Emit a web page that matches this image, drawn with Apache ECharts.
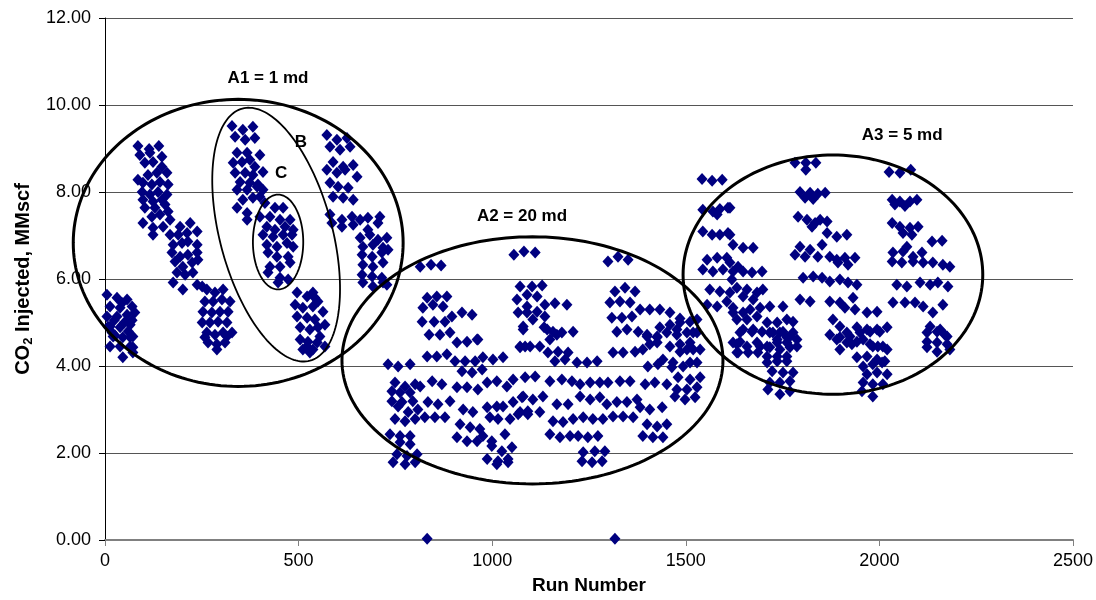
<!DOCTYPE html>
<html>
<head>
<meta charset="utf-8">
<title>CO2 Injected by Run Number</title>
<script src="https://cdn.jsdelivr.net/npm/echarts@6/dist/echarts.min.js"></script>
<style>
  html, body { margin: 0; padding: 0; background: #fff; }
  #chart { width: 1096px; height: 600px; }
</style>
</head>
<body>
<div id="chart"></div>
<script>
// Run number vs. CO2 injected (MMscf), grouped by permeability region.

// Region A1 (1 md): low block, stepped band, B/C sub-regions, second stepped band
const lowBand1 = [
  [5,5.64],[31,5.57],[57,5.53],[13,5.37],[39,5.34],[70,5.37],[5,5.14],[31,5.14],[57,5.18],[77,5.23],
  [13,4.91],[39,4.89],[65,4.95],[21,4.68],[46,4.66],[72,4.68],[13,4.45],[39,4.45],[65,4.45],[18,4.77],
  [26,4.70],[65,4.66],[46,4.20],[72,4.43],[72,4.31],[50,5.00],[24,5.05],[60,4.80],[8,4.90],[70,5.05],[44,5.45]
];
const stepBand2 = [
  [85,9.06],[114,8.99],[139,9.06],[90,8.85],[116,8.90],[147,8.81],[103,8.67],[124,8.69],[147,8.58],[85,8.28],
  [111,8.39],[134,8.44],[160,8.44],[98,8.21],[121,8.17],[142,8.23],[163,8.17],[96,8.00],[116,7.94],[137,8.00],
  [160,7.94],[98,7.82],[124,7.78],[147,7.82],[103,7.64],[129,7.64],[155,7.71],[121,7.43],[142,7.48],[163,7.55],
  [98,7.29],[124,7.18],[124,7.02],[150,7.20],[168,7.36],[194,7.20],[220,7.29],[168,7.02],[189,7.02],[212,7.06],
  [238,7.09],[176,6.79],[199,6.83],[214,6.86],[238,6.79],[173,6.61],[194,6.51],[214,6.56],[238,6.61],[181,6.40],
  [201,6.28],[225,6.38],[240,6.44],[186,6.15],[207,6.10],[227,6.15],[176,5.92],[201,5.76],[238,5.87],[251,5.83],
  [263,5.76],[284,5.69],[305,5.76],[258,5.48],[279,5.48],[302,5.53],[323,5.48],[253,5.25],[276,5.23],[297,5.25],
  [318,5.25],[251,5.00],[271,5.00],[292,5.02],[315,5.00],[263,4.77],[284,4.72],[305,4.77],[328,4.77],[266,4.54],
  [289,4.50],[310,4.54],[315,4.68],[258,4.66],[289,4.38]
];
const bUpper = [
  [328,9.52],[356,9.43],[382,9.50],[336,9.27],[362,9.20],[387,9.24],[341,8.90],[367,8.90],[400,8.85],[331,8.67],
  [354,8.69],[374,8.74],[387,8.58],[408,8.46],[336,8.44],[362,8.44],[382,8.39],[349,8.23],[374,8.21],[395,8.17],
  [341,8.05],[367,8.05],[393,8.12],[408,8.05],[356,7.82],[382,7.87],[400,7.89],[341,7.64],[367,7.52],[367,7.36]
];
const cCore = [
  [413,7.75],[439,7.64],[460,7.64],[400,7.43],[426,7.43],[452,7.36],[478,7.36],[418,7.20],[439,7.13],[465,7.20],
  [486,7.13],[408,7.02],[434,6.97],[460,7.02],[483,7.02],[418,6.79],[444,6.74],[470,6.83],[486,6.74],[421,6.61],
  [444,6.51],[473,6.51],[426,6.28],[452,6.28],[478,6.38],[421,6.15],[452,6.03],[473,5.99],[447,5.92]
];
const afterC = [
  [496,5.69],[522,5.60],[542,5.57],[491,5.41],[511,5.34],[537,5.37],[496,5.14],[522,5.11],[542,5.07],[504,4.89],
  [529,4.84],[550,4.89],[504,4.61],[524,4.56],[548,4.54],[511,4.38],[537,4.38],[537,5.69],[550,5.48],[563,5.25],
  [568,4.95],[555,4.68],[568,4.45],[522,4.45],[529,4.31]
];
const stepBand4 = [
  [573,9.31],[599,9.20],[625,9.24],[581,9.04],[607,8.97],[633,9.04],[589,8.69],[615,8.58],[641,8.62],[573,8.51],
  [599,8.44],[620,8.51],[651,8.35],[581,8.21],[602,8.12],[628,8.10],[589,7.89],[615,7.87],[641,7.82],[581,7.48],
  [612,7.36],[638,7.43],[586,7.29],[612,7.20],[641,7.25],[659,7.36],[679,7.41],[710,7.43],[705,7.29],[659,6.95],
  [684,7.02],[679,7.13],[705,6.90],[728,6.95],[666,6.74],[692,6.79],[718,6.72],[664,6.56],[690,6.51],[715,6.61],
  [731,6.67],[666,6.33],[692,6.28],[718,6.38],[664,6.10],[690,6.06],[715,6.03],[666,5.92],[692,5.83],[718,5.92],[728,5.87]
];

// Region A2 (20 md)
const a2Upper = [
  [814,6.28],[842,6.33],[868,6.31],[1056,6.56],[1082,6.63],[1111,6.61],[1299,6.40],[1325,6.51],[1351,6.44],
  [832,5.57],[857,5.60],[883,5.60],[821,5.34],[847,5.41],[873,5.37],[819,5.02],[850,5.02],[878,5.02],[896,5.14],
  [922,5.23],[948,5.18],[837,4.72],[865,4.72],[891,4.77],[909,4.54],[935,4.56],[963,4.61],
  [1072,5.83],[1064,5.53],[1090,5.37],[1067,5.23],[1080,4.91],[1072,4.45],
  [1103,5.83],[1129,5.85],[1090,5.64],[1116,5.60],[1136,5.41],[1162,5.44],[1193,5.41],[1090,5.23],[1116,5.25],
  [1136,5.14],[1105,5.07],[1134,4.89],[1157,4.79],[1180,4.77],[1209,4.79],[1149,4.61],[1085,4.45],[1123,4.45],
  [1317,5.71],[1343,5.80],[1369,5.71],[1304,5.46],[1330,5.48],[1356,5.46],[1382,5.30],[1407,5.30],[1433,5.30],
  [1459,5.23],[1485,5.09],[1309,5.11],[1335,5.11],[1361,5.14],[1322,4.79],[1348,4.84],[1377,4.79],[1400,4.68],
  [1426,4.66],[1451,4.77],[1477,4.84],[1503,4.77],[1519,4.77],[1529,5.07],
  [1433,4.89],[1459,4.95],[1485,5.00],[1511,5.02],[1477,4.72],[1459,4.45],[1485,4.50],[1511,4.54],
  [1142,4.84],[1167,4.72],[1400,4.72],[1426,4.68],[1529,4.77],[961,4.61],[1080,4.84]
];
const a2Mid = [
  [1098,4.45],[1144,4.31],[1170,4.33],[1196,4.31],[1162,4.11],[1188,4.15],[1219,4.08],[1245,4.08],[1271,4.11],
  [1312,4.31],[1338,4.31],[1369,4.33],[1389,4.38],[1407,4.50],[1426,4.54],[1441,4.15],[1467,4.08],[1485,4.33],
  [1503,4.38],[1519,4.38],[1537,4.38],[1402,3.99],[1428,4.04],[1464,3.97],[1493,3.99],[1511,4.08],[1529,4.08],
  [1085,3.74],[1111,3.76],[1149,3.65],[1180,3.69],[1206,3.65],[1227,3.58],[1253,3.62],[1278,3.62],[1299,3.62],
  [1330,3.65],[1356,3.65],[1395,3.58],[1420,3.62],[1451,3.58],[1480,3.74],[1511,3.69],[1537,3.74],[1477,3.46],
  [1503,3.46],[1529,3.51],
  [832,4.22],[857,4.22],[883,4.27],[904,4.11],[930,4.11],[956,4.11],[976,4.20],[1002,4.15],[1028,4.20],
  [922,3.88],[948,3.85],[974,3.92],[1072,4.43],
  [731,4.04],[757,3.99],[788,4.04],
  [749,3.62],[775,3.53],[801,3.58],[814,3.53],[845,3.65],[870,3.58],[909,3.51],[935,3.51],[963,3.46],[987,3.62],
  [1012,3.65],[1038,3.53],[1054,3.69],[741,3.42],[762,3.39],[788,3.39]
];
const a2Lower = [
  [1080,3.30],[1105,3.23],[1131,3.30],[1167,3.12],[1196,3.12],[1227,3.30],[1253,3.23],[1278,3.28],[1296,3.12],
  [1322,3.17],[1348,3.17],[1374,3.23],[1382,3.05],[1407,3.00],[1439,3.05],[1472,3.30],[1498,3.23],[1524,3.28],
  [1072,2.94],[1092,2.89],[1123,2.94],[1157,2.73],[1183,2.71],[1209,2.78],[1235,2.82],[1260,2.78],[1286,2.78],
  [1312,2.84],[1338,2.84],[1364,2.82],[1400,2.66],[1426,2.61],[1451,2.66],
  [1149,2.43],[1175,2.36],[1201,2.39],[1222,2.39],[1247,2.36],[1273,2.39],[1389,2.39],[1415,2.36],[1441,2.36],
  [1235,2.02],[1265,2.04],[1291,2.04],[1232,1.81],[1258,1.79],[1284,1.81],
  [741,3.19],[767,3.17],[795,3.19],[834,3.17],[860,3.12],[891,3.19],[925,3.00],[950,2.94],[987,3.05],[1012,3.07],
  [1028,3.07],[1054,3.17],[1077,3.28],[757,3.07],[783,2.94],[808,3.00],
  [749,2.78],[775,2.73],[801,2.78],[826,2.82],[852,2.82],[878,2.82],[917,2.66],[943,2.59],[968,2.55],[994,2.82],
  [1015,2.78],[1046,2.78],[1067,2.89],[1092,2.96],
  [736,2.43],[762,2.39],[788,2.39],[762,2.25],[788,2.20],[909,2.36],[935,2.27],[961,2.27],[976,2.39],[999,2.27],
  [1033,2.43],[999,2.16],[1025,2.04],[1051,2.13],
  [754,1.97],[780,1.93],[806,1.97],[744,1.79],[775,1.74],[801,1.79],[987,1.86],[1015,1.81],[1041,1.86],
  [1012,1.74],[1041,1.79]
];
const nearZero = [[832,0.03],[1317,0.03]];

// Region A3 (5 md)
const a3Left = [
  [1542,8.30],[1568,8.26],[1594,8.28],
  [1544,7.59],[1570,7.55],[1588,7.61],[1609,7.64],[1581,7.48],[1614,7.64],
  [1544,7.09],[1568,7.02],[1588,7.02],[1609,7.06],[1622,6.79],[1648,6.72],[1674,6.72],[1614,7.02],
  [1555,6.44],[1581,6.49],[1606,6.49],[1544,6.22],[1570,6.17],[1596,6.22],[1622,6.17],[1635,6.28],[1614,6.38],
  [1648,6.17],[1671,6.15],[1697,6.17],[1619,5.99],
  [1562,5.76],[1588,5.71],[1614,5.69],[1555,5.41],[1581,5.37],[1606,5.48],[1622,5.23],[1632,5.80],[1658,5.76],
  [1684,5.69],[1699,5.76],[1648,5.60],[1674,5.53],
  [1622,5.34],[1648,5.23],[1666,5.30],[1692,5.34],[1717,5.37],[1751,5.37],[1632,5.07],[1658,5.07],[1684,5.14],
  [1710,5.00],[1736,5.00],[1761,5.07],[1777,5.02],
  [1648,4.84],[1674,4.84],[1717,4.77],[1743,4.77],[1769,4.68],[1640,4.56],[1684,4.54],[1710,4.45],[1736,4.54],
  [1761,4.54],[1787,4.45],
  [1640,4.77],[1671,4.79],[1697,4.79],[1725,4.77],[1751,4.79],[1777,4.77],[1736,4.61],[1761,4.66],[1787,4.61],
  [1632,4.50],[1658,4.45],[1692,4.45],[1717,4.43],[1743,4.38],[1769,4.43],[1632,4.31],[1661,4.31],[1686,4.31],
  [1710,4.22],[1736,4.22],[1761,4.22],[1710,4.08],[1736,4.11],[1761,4.11],[1723,3.88],[1751,3.85],[1777,3.85],
  [1717,3.62],[1743,3.62],[1769,3.65],[1712,3.46],[1743,3.35],[1769,3.42],[1622,4.54],[1635,4.31]
];
const a3Mid = [
  [1782,8.67],[1810,8.67],[1836,8.67],[1810,8.51],
  [1795,8.00],[1821,7.98],[1841,7.96],[1860,7.98],[1808,7.87],[1829,7.84],
  [1790,7.43],[1813,7.36],[1834,7.29],[1847,7.36],[1865,7.32],[1826,7.20],
  [1865,7.06],[1890,6.97],[1916,7.02],
  [1795,6.74],[1821,6.67],[1852,6.79],[1782,6.56],[1808,6.51],[1841,6.51],[1872,6.51],[1890,6.44],[1911,6.49],
  [1937,6.49],[1919,6.33],[1893,6.38],
  [1803,6.03],[1829,6.06],[1852,6.03],[1872,5.94],[1898,5.99],[1919,5.92],[1942,5.87],
  [1795,5.53],[1821,5.48],[1872,5.48],[1898,5.46],[1932,5.57],[1911,5.34],[1937,5.30],[1968,5.23],[1994,5.25],
  [1880,5.07],[1898,4.91],[1916,4.77],[1942,4.89],[1968,4.84],[1994,4.84],[2020,4.89],
  [1890,4.61],[1916,4.54],[1942,4.56],[1958,4.61],[1983,4.45],[2009,4.45],
  [1872,4.72],[1898,4.66],[1924,4.68],[1950,4.77],[1976,4.79],[2001,4.79],[1898,4.38],[1929,4.50],[1976,4.50],
  [1996,4.45],[2020,4.38],[1942,4.20],[1968,4.22],[1994,4.15],[2014,4.11],[1958,3.99],[1983,4.04],[2007,4.08],
  [1968,3.81],[1994,3.85],[2020,3.81],[1958,3.62],[1983,3.58],[2009,3.58],[1955,3.42],[1983,3.30]
];
const a3Right = [
  [2025,8.46],[2053,8.44],[2081,8.51],
  [2033,7.82],[2053,7.78],[2079,7.78],[2097,7.82],[2040,7.71],[2066,7.68],
  [2033,7.29],[2053,7.20],[2079,7.18],[2100,7.20],[2061,7.06],[2084,7.02],[2136,6.86],[2162,6.88],
  [2035,6.61],[2061,6.63],[2087,6.51],[2110,6.61],[2033,6.40],[2058,6.38],[2087,6.40],[2113,6.38],[2138,6.38],
  [2164,6.33],[2182,6.28],[2071,6.74],
  [2045,5.87],[2071,5.83],[2105,5.92],[2131,5.87],[2151,5.92],[2177,5.83],
  [2035,5.46],[2066,5.46],[2092,5.46],[2113,5.37],[2138,5.23],[2164,5.41],
  [2131,4.91],[2157,4.84],[2175,4.68],[2123,4.56],[2149,4.54],[2175,4.50],
  [2123,4.77],[2149,4.79],[2169,4.72],[2123,4.43],[2149,4.33],[2182,4.38]
];

// Region outlines in data units: centre (run, MMscf), half-width (runs), half-height (MMscf), tilt (deg)
const regionOutlines = [
  { id: 'A1', cx: 344,  cy: 6.83, rx: 426, ry: 3.30, tilt: 0 },
  { id: 'A2', cx: 1104, cy: 4.13, rx: 492, ry: 2.84, tilt: 0 },
  { id: 'A3', cx: 1880, cy: 6.10, rx: 387, ry: 2.75, tilt: 0 },
  { id: 'B',  cx: 442,  cy: 7.02, rx: 145, ry: 3.00, tilt: -15 },
  { id: 'C',  cx: 447,  cy: 6.85, rx: 65,  ry: 1.09, tilt: 0 }
];
const outlineWidth = { A1: 3, A2: 3, A3: 3, B: 1.8, C: 1.8 };

// Region captions anchored in data units
const regionLabels = [
  ['A1 = 1 md', 421, 10.62],
  ['B', 506, 9.15],
  ['C', 455, 8.42],
  ['A2 = 20 md', 1077, 7.43],
  ['A3 = 5 md', 2059, 9.31]
];

const xTicks = { min: 0, max: 2500, step: 500 };
const yTicks = { min: 0, max: 12, step: 2 };

const runs = [].concat(lowBand1, stepBand2, bUpper, cCore, afterC, stepBand4,
                       a2Upper, a2Mid, a2Lower, nearZero, a3Left, a3Mid, a3Right);

const FONT = 'Arial, "Liberation Sans", sans-serif';
const chart = echarts.init(document.getElementById('chart'), null, { renderer: 'canvas' });

chart.setOption({
  animation: false,
  backgroundColor: '#ffffff',
  grid: { left: 105, right: 23, top: 18, bottom: 59, containLabel: false },
  xAxis: {
    type: 'value',
    min: xTicks.min, max: xTicks.max, interval: xTicks.step,
    name: 'Run Number',
    nameLocation: 'middle',
    nameGap: 36,
    nameTextStyle: { fontFamily: FONT, fontSize: 19, fontWeight: 'bold', color: '#000' },
    axisLine: { show: true, onZero: false, lineStyle: { color: '#808080', width: 2 } },
    axisTick: { show: true, inside: false, length: 6, lineStyle: { color: '#808080', width: 1 } },
    axisLabel: { margin: 12, fontFamily: FONT, fontSize: 18, color: '#000', formatter: v => String(v) },
    splitLine: { show: false }
  },
  yAxis: {
    type: 'value',
    min: yTicks.min, max: yTicks.max, interval: yTicks.step,
    name: '{t|CO}{s|2}{t| Injected, MMscf}',
    nameLocation: 'middle',
    nameGap: 72,
    nameRotate: 90,
    nameTextStyle: {
      rich: {
        t: { fontFamily: FONT, fontSize: 20, fontWeight: 'bold', color: '#000', lineHeight: 24, verticalAlign: 'bottom' },
        s: { fontFamily: FONT, fontSize: 13, fontWeight: 'bold', color: '#000', lineHeight: 20, verticalAlign: 'bottom', padding: [0, 0, -2, 0] }
      }
    },
    axisLine: { show: true, onZero: false, lineStyle: { color: '#000', width: 1 } },
    axisTick: { show: true, inside: false, length: 6, lineStyle: { color: '#000', width: 1 } },
    axisLabel: { margin: 14, fontFamily: FONT, fontSize: 18, color: '#000', formatter: v => v.toFixed(2) },
    splitLine: { show: true, lineStyle: { color: '#555', width: 1 } }
  },
  series: [
    {
      type: 'scatter',
      name: 'CO2 injected',
      data: runs,
      symbol: 'diamond',
      symbolSize: [11, 12],
      itemStyle: { color: '#000080', opacity: 1 },
      z: 2,
      clip: false
    },
    {
      type: 'custom',
      name: 'regions',
      coordinateSystem: 'cartesian2d',
      silent: true,
      z: 3,
      dimensions: ['x', 'y', 'rx', 'ry', 'tilt'],
      encode: { x: 0, y: 1 },
      data: regionOutlines.map(r => [r.cx, r.cy, r.rx, r.ry, r.tilt]),
      renderItem: function (params, api) {
        const c = api.coord([api.value(0), api.value(1)]);
        const s = api.size([api.value(2), api.value(3)]);
        const th = api.value(4) * Math.PI / 180;
        const pts = [];
        const n = 180;
        for (let i = 0; i < n; i++) {
          const t = i / n * Math.PI * 2;
          const ex = s[0] * Math.cos(t), ey = s[1] * Math.sin(t);
          pts.push([c[0] + ex * Math.cos(th) - ey * Math.sin(th),
                    c[1] + ex * Math.sin(th) + ey * Math.cos(th)]);
        }
        return {
          type: 'polygon',
          shape: { points: pts },
          style: { fill: 'none', stroke: '#000', lineWidth: outlineWidth[regionOutlines[params.dataIndex].id] }
        };
      }
    },
    {
      type: 'scatter',
      name: 'region labels',
      silent: true,
      z: 4,
      symbolSize: 0,
      itemStyle: { opacity: 1 },
      data: regionLabels.map(([text, x, y]) => ({ name: text, value: [x, y] })),
      label: {
        show: true,
        position: 'inside',
        formatter: p => p.name,
        fontFamily: FONT, fontSize: 17, fontWeight: 'bold', color: '#000', opacity: 1
      }
    }
  ]
});
</script>
</body>
</html>
